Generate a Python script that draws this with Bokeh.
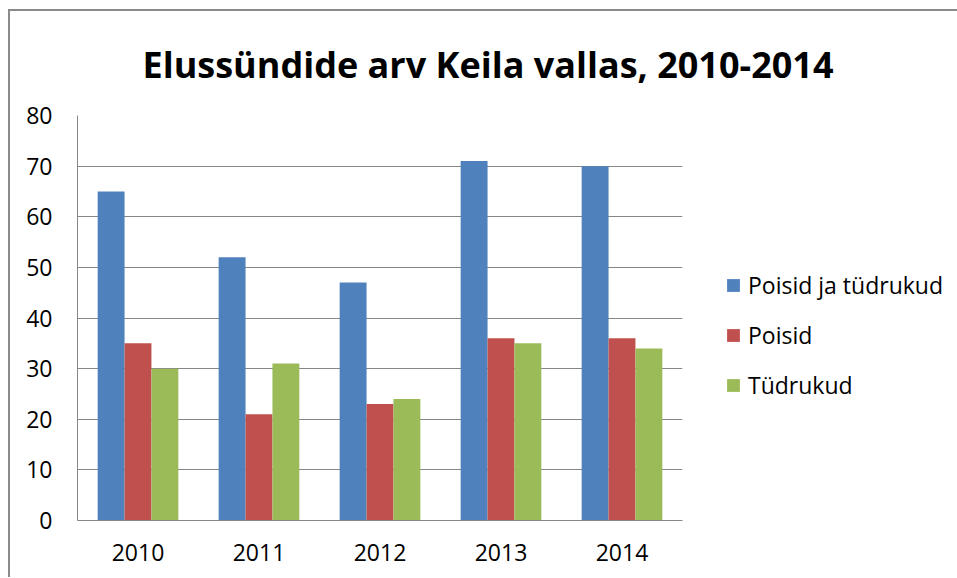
from bokeh.plotting import figure
from bokeh.models import (ColumnDataSource, FactorRange, Range1d, FixedTicker,
                          Legend, LegendItem)
from bokeh.transform import dodge
from bokeh.embed import file_html
from bokeh.resources import INLINE

# ---- data ----
years = ["2010", "2011", "2012", "2013", "2014"]
series_names = ["Poisid ja tüdrukud", "Poisid", "Tüdrukud"]
total = [65, 52, 47, 71, 70]
boys = [35, 21, 23, 36, 36]
girls = [30, 31, 24, 35, 34]
y_ticks = [0, 10, 20, 30, 40, 50, 60, 70, 80]
title_text = "Elussündide arv Keila vallas, 2010-2014"

colors = ["#4F81BD", "#C0504D", "#9BBB59"]
grid_col = "#868686"
FONT = "Open Sans"

src = ColumnDataSource(dict(year=years, total=total, boys=boys, girls=girls))

# layout (canvas px)
FRAME_W, FRAME_H = 605, 405
LEFT, TOP = 67, 104

p = figure(x_range=FactorRange(factors=years), y_range=Range1d(0, 80),
           frame_width=FRAME_W, frame_height=FRAME_H,
           output_backend="svg", toolbar_location=None,
           min_border_left=LEFT, min_border_top=TOP,
           min_border_right=0, min_border_bottom=57)
p.styles = {"margin-left": "8px", "margin-top": "9px",
            "border-top": "2px solid #8a8a8a", "border-left": "2px solid #8a8a8a"}
p.outline_line_color = None
p.background_fill_color = "white"
p.border_fill_color = "white"

# title
p.title.text = title_text
p.title.text_font = FONT
p.title.text_font_style = "bold"
p.title.text_font_size = "36px"
p.title.text_color = "#000000"
p.title.align = "left"
p.title.offset = 65
p.title.standoff = 53

bar_w = 1 / 4.5
offsets = [-bar_w, 0, bar_w]
keys = ["total", "boys", "girls"]
rends = []
for key, col, off in zip(keys, colors, offsets):
    r = p.vbar(x=dodge("year", off, range=p.x_range), top=key, width=bar_w,
               source=src, fill_color=col, line_color=None)
    rends.append(r)

# axes
for ax in (p.xaxis[0], p.yaxis[0]):
    ax.axis_line_color = grid_col
    ax.axis_line_width = 1
    ax.major_tick_line_color = None
    ax.minor_tick_line_color = None
    ax.major_tick_out = 0
    ax.major_tick_in = 0
    ax.major_label_text_font = FONT
    ax.major_label_text_font_size = "23px"
    ax.major_label_text_color = "#000000"
p.yaxis.ticker = FixedTicker(ticks=y_ticks)
p.yaxis.major_label_standoff = 25
p.xaxis.major_label_standoff = 23

p.xgrid.grid_line_color = None
p.ygrid.ticker = FixedTicker(ticks=y_ticks)
p.ygrid.grid_line_color = grid_col
p.ygrid.grid_line_width = 1

# legend
legend = Legend(items=[LegendItem(label=n, renderers=[r]) for n, r in zip(series_names, rends)],
                location=(43, 119), border_line_color=None, background_fill_alpha=0,
                padding=0, margin=0, spacing=18, glyph_width=16, glyph_height=16,
                label_height=16, label_standoff=7,
                label_text_font=FONT, label_text_font_size="23px",
                label_text_color="#000000")
p.add_layout(legend, "right")

open("out.html", "w").write(file_html(p, INLINE))
